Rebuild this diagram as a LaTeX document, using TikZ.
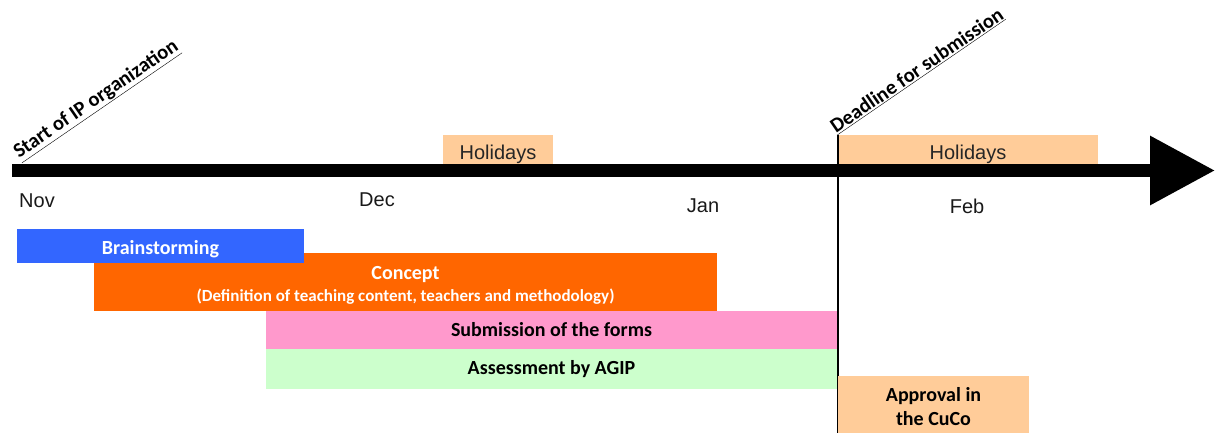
\documentclass[tikz,border=0pt]{standalone}
\usepackage{fontspec}
\setmainfont{Liberation Sans}
\newfontfamily\barfont{Carlito}
\usetikzlibrary{arrows.meta}

\definecolor{brainBlue}{HTML}{3366FF}
\definecolor{conceptOrange}{HTML}{FF6600}
\definecolor{formPink}{HTML}{FF99CC}
\definecolor{agipGreen}{HTML}{CCFFCC}
\definecolor{peach}{HTML}{FFCC99}

\begin{document}
\begin{tikzpicture}[x = 1pt, y = -1pt]
\tikzstyle{barStyle}=[inner sep = 0pt, align = center, text depth = 0pt, font = \barfont\bfseries\fontsize{20}{24}\selectfont]
\tikzstyle{monthStyle}=[inner sep = 0pt, text = black!90, font = \fontsize{20}{24}\selectfont]
\tikzstyle{holidayStyle}=[fill = peach, inner sep = 0pt, minimum height = 29pt, text height = 19pt, text depth = 0pt, text = black!85, font = \fontsize{20}{24}\selectfont]
\tikzstyle{milestoneStyle}=[anchor = base west, rotate = 34.5, inner sep = 0pt, font = \barfont\bfseries\fontsize{20.5}{24}\selectfont]
\useasboundingbox (0,0) rectangle (1215,433);
\node[holidayStyle, minimum width = 110pt] (hol1) at (498,149.5) {Holidays};
\node[holidayStyle, minimum width = 260pt] (hol2) at (968,149.5) {Holidays};
\coordinate (axisstart) at (12,170.5);
\coordinate (axisend) at (1215,170.5);
\draw[line width = 13pt, -{Triangle[length = 65pt, width = 66pt]}] (axisstart) -- (axisend);
\coordinate (deadlinetop) at (838,135);
\coordinate (deadlinebottom) at (838,433);
\draw[line width = 2.5pt] (deadlinetop) -- (deadlinebottom);
\node[milestoneStyle] (start) at (19,159) {\underline{Start of IP organization}};
\node[milestoneStyle] (deadline) at (836,134) {\underline{Deadline for submission}};
\node[monthStyle] (nov) at (37,201) {Nov};
\node[monthStyle] (dec) at (377,200) {Dec};
\node[monthStyle] (jan) at (703,206) {Jan};
\node[monthStyle] (feb) at (967,206) {Feb};
\node[barStyle, fill = conceptOrange, text = white, minimum width = 623pt, minimum height = 58pt, text height = 39pt] (concept) at (405.5,282) {Concept\\[-2pt]{\fontsize{17}{20}\selectfont (Definition of teaching content, teachers and methodology)}};
\node[barStyle, fill = brainBlue, text = white, minimum width = 287pt, minimum height = 34pt, text height = 17pt] (brain) at (160.5,246) {Brainstorming};
\node[barStyle, fill = formPink, minimum width = 571pt, minimum height = 38pt, text height = 13pt] (forms) at (551.5,330) {Submission of the forms};
\node[barStyle, fill = agipGreen, minimum width = 571pt, minimum height = 40pt, text height = 11pt] (agip) at (551.5,369) {Assessment by AGIP};
\node[barStyle, fill = peach, minimum width = 191pt, minimum height = 58pt, text height = 41pt] (cuco) at (933.5,405) {Approval in\\the CuCo};
\end{tikzpicture}
\end{document}
